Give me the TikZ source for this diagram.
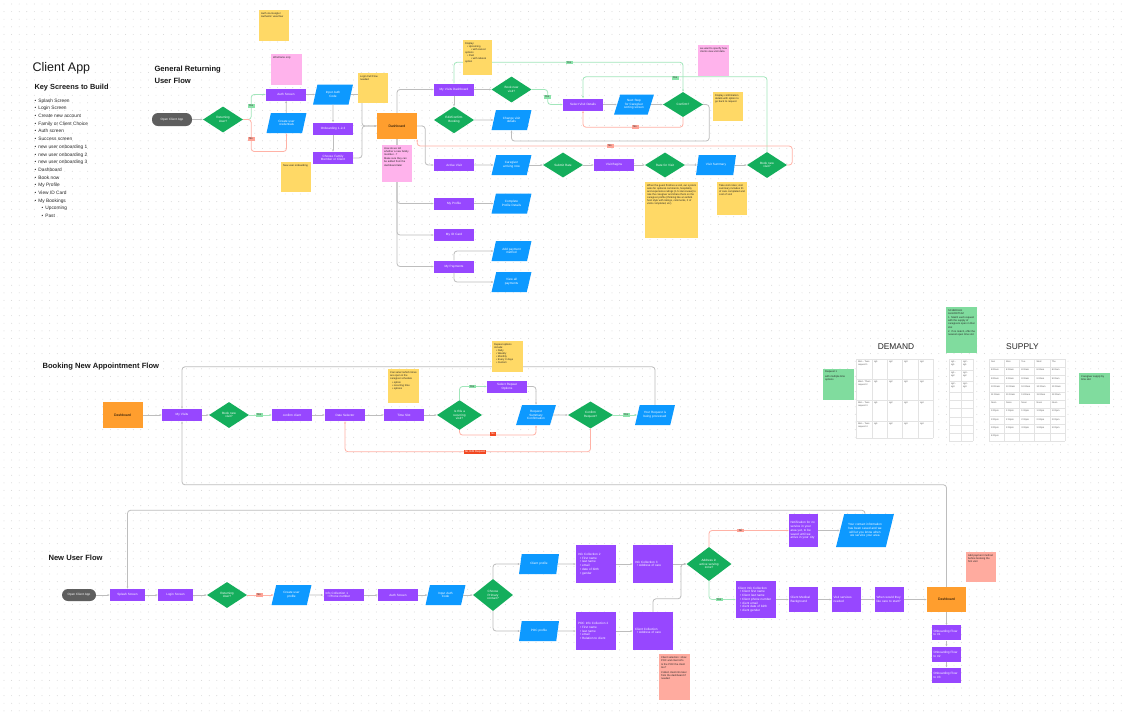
\documentclass[tikz,border=0pt]{standalone}
\usepackage{fontspec}
\setmainfont{Liberation Sans}
\usepackage{xcolor}
\usepackage{tikz}
\usetikzlibrary{arrows.meta,positioning,shapes.geometric,calc}
\definecolor{ScreenPurple}{HTML}{9747FF}
\definecolor{EntryBlue}{HTML}{0D99FF}
\definecolor{ChoiceGreen}{HTML}{14AE5C}
\definecolor{HubOrange}{HTML}{FF9E2E}
\definecolor{PillGray}{HTML}{5E5E5E}
\definecolor{NoteYellow}{HTML}{FFD966}
\definecolor{NotePink}{HTML}{FFB3EC}
\definecolor{NoteSalmon}{HTML}{FFAB9F}
\definecolor{NoteGreen}{HTML}{80DC9E}
\definecolor{LinkGray}{HTML}{BDBDBD}
\definecolor{YesLine}{HTML}{A2E6BB}
\definecolor{NoLine}{HTML}{FFB2A6}
\definecolor{YesTag}{HTML}{8BE3AA}
\definecolor{NoTag}{HTML}{FFA396}
\definecolor{StopRed}{HTML}{F24822}
\definecolor{DotGray}{HTML}{CFCFCF}
\definecolor{TableLine}{HTML}{E3E3E3}
\newcommand{\notebody}[3]{\parbox[t][#2][t]{#1}{\raggedright #3}}
\newcommand{\listdot}{\hspace*{2pt}\textbullet\ }

\begin{document}
\begin{tikzpicture}[
  x=1pt,y=-1pt,
  node distance=6pt,
  screen/.style={fill=ScreenPurple,text=white,minimum width=40pt,minimum height=12pt,text width=36pt,inner sep=0.5pt,align=center,font=\fontsize{3.1}{3.7}\selectfont},
  form/.style={screen,minimum height=38pt,align=left},
  small/.style={screen,minimum width=29pt,text width=26pt,minimum height=25pt,align=left},
  entry/.style={trapezium,trapezium left angle=63,trapezium right angle=117,trapezium stretches=true,fill=EntryBlue,text=white,minimum width=40pt,minimum height=20pt,text width=24pt,inner sep=0.5pt,align=center,font=\fontsize{3.1}{3.7}\selectfont},
  choice/.style={diamond,fill=ChoiceGreen,text=white,minimum width=40pt,minimum height=25pt,text width=20pt,inner sep=0pt,align=center,font=\fontsize{3.1}{3.7}\selectfont},
  hub/.style={fill=HubOrange,text=black,minimum width=40pt,minimum height=26pt,font=\fontsize{3.4}{4}\selectfont},
  start/.style={fill=PillGray,text=white,rounded corners=6pt,minimum width=40pt,minimum height=13pt,font=\fontsize{3.1}{3.7}\selectfont},
  note/.style={fill=#1,anchor=north west,inner sep=2pt,text=black!85,font=\fontsize{2.6}{3.1}\selectfont},
  cell/.style={anchor=north west,inner sep=0.8pt,text=black!65,font=\fontsize{2.3}{2.8}\selectfont},
  sectiontitle/.style={anchor=west,align=left,text=black!90,font=\bfseries\fontsize{7.6}{12}\selectfont},
  arr/.style={-{Latex[length=2.2pt,width=2pt]},draw=LinkGray,line width=0.8pt,rounded corners=3pt},
  yesarr/.style={arr,draw=YesLine},
  noarr/.style={arr,draw=NoLine},
  yestag/.style={fill=YesTag,text=black!80,inner sep=0.8pt,minimum width=7pt,font=\fontsize{2.7}{3}\selectfont},
  notag/.style={fill=NoTag,text=black!80,inner sep=0.8pt,minimum width=7pt,font=\fontsize{2.7}{3}\selectfont},
  stoptag/.style={fill=StopRed,text=white,inner sep=0.8pt,font=\fontsize{2.7}{3}\selectfont}
]
\fill[white] (0,0) rectangle (1130,713);
\useasboundingbox (0,0) rectangle (1130,713);
\foreach \gy in {4,11.6,...,712}
  \draw[DotGray,line width=0.9pt,line cap=round,dash pattern=on 0pt off 7.6pt] (4,\gy) -- (1128,\gy);

\node[anchor=west,text=black!90,font=\fontsize{12.5}{14}\selectfont] (appTitle) at (29,68) {Client App};
\node[anchor=west,text=black!90,font=\bfseries\fontsize{7.4}{8}\selectfont] (keyTitle) at (31,88) {Key Screens to Build};
\node[anchor=north west,align=left,inner sep=0pt,text=black!85,font=\fontsize{4.8}{7.7}\selectfont] (keyList) at (34.5,98.5) {%
\textbullet\hspace{2pt}Splash Screen\\
\textbullet\hspace{2pt}Login Screen\\
\textbullet\hspace{2pt}Create new account\\
\textbullet\hspace{2pt}Family or Client Choice\\
\textbullet\hspace{2pt}Auth screen\\
\textbullet\hspace{2pt}Success screen\\
\textbullet\hspace{2pt}new user onboarding 1\\
\textbullet\hspace{2pt}new user onboarding 2\\
\textbullet\hspace{2pt}new user onboarding 3\\
\textbullet\hspace{2pt}Dashboard\\
\textbullet\hspace{2pt}Book now\\
\textbullet\hspace{2pt}My Profile\\
\textbullet\hspace{2pt}View ID Card\\
\textbullet\hspace{2pt}My Bookings\\
\hspace*{7pt}\textbullet\hspace{2pt}Upcoming\\
\hspace*{7pt}\textbullet\hspace{2pt}Past};

\node[sectiontitle] (titleReturning) at (151,75) {General Returning\\User Flow};
\node[sectiontitle] (titleBooking) at (39,367) {Booking New Appointment Flow};
\node[sectiontitle] (titleNew) at (45,558) {New User Flow};

\node[start] (open1) at (172,119.5) {Open Client App};
\node[choice] (ret1) at (223,119.5) {Returning\\User?};
\node[screen] (auth1) at (286,94.5) {Auth Screen};
\node[entry] (create1) at (286.5,123) {Create user\\credentials};
\node[entry] (code1) at (333,94.5) {Input Auth\\Code};
\node[screen] (onb1) at (333,128.5) {Onboarding 1-2-3};
\node[screen] (choose1) at (333,158) {Choose Family Member or Client};
\node[hub] (dash1) at (397,126) {Dashboard};
\coordinate (join1) at (362,126);
\node[screen] (visits1) at (454,89.5) {My Visits Dashboard};
\node[choice] (booknew1) at (511.5,89.5) {Book new\\visit?};
\node[choice] (edit1) at (454,120) {Edit/Confirm\\Booking};
\node[entry] (change1) at (511.5,120) {Change visit\\details};
\node[screen] (select1) at (583,104.5) {Select Visit Details};
\node[entry] (next1) at (634,104.5) {Next Step for Caregiver sorting screen};
\node[choice] (confirm1) at (683,104.5) {Confirm?};
\node[screen] (active1) at (454,165) {Active Visit};
\node[entry] (arriving1) at (511.5,165) {Caregiver\\arriving now};
\node[choice] (submit1) at (563,165) {Submit Rate};
\node[screen] (begins1) at (614,165) {Visit Begins};
\node[choice] (rate1) at (665,165) {Rate for Visit};
\node[entry] (summary1) at (716,165) {Visit Summary};
\node[choice] (booknew2) at (767,165) {Book new\\visit?};
\node[screen] (profile1) at (454,203.5) {My Profile};
\node[entry] (details1) at (511.5,203.5) {Complete\\Profile Details};
\node[screen] (idcard1) at (454,235) {My ID Card};
\node[screen] (pay1) at (454,266.5) {My Payments};
\node[entry] (addpay1) at (511.5,251) {Add payment\\method};
\node[entry] (allpay1) at (511.5,282) {View all\\payments};

\draw[arr] (open1) -- (ret1);
\draw[yesarr] (ret1.east) -- ++(8,0) |- (auth1.west);
\draw[noarr] (ret1.east) -- ++(8,0) -- ++(0,32) -| (create1.south);
\draw[arr] (auth1) -- (code1);
\draw[arr] (create1) -- (auth1);
\draw[arr] (code1) -- (onb1);
\draw[arr] (onb1) -- (choose1);
\draw[arr] (code1.east) -| (join1) -- (dash1.west);
\draw[arr] (choose1.east) -| (join1) -- (dash1.west);
\draw[arr] (dash1.north) |- (visits1.west);
\draw[arr] (dash1.east) -- ++(8,0) |- (active1.west);
\draw[arr] (dash1.south) |- (profile1.west);
\draw[arr] (dash1.south) |- (idcard1.west);
\draw[arr] (dash1.south) |- (pay1.west);
\draw[arr] (visits1) -- (booknew1);
\draw[arr] (visits1) -- (edit1);
\draw[arr] (edit1) -- (change1);
\draw[yesarr] (booknew1.east) -- ++(16,0) |- (select1.west);
\draw[yesarr] (visits1.north) -- ++(0,-21) -| (confirm1.north);
\draw[arr] (select1) -- (next1);
\draw[arr] (next1) -- (confirm1);
\draw[noarr] (confirm1.south) -- ++(0,10) -| (select1.south);
\draw[arr] (confirm1.east) -- ++(6,0) -- ++(0,36.5) -| (change1.south);
\draw[yesarr] (booknew2.north) -- ++(0,-75) -| (select1.north);
\draw[noarr] (booknew2.east) -- ++(5,0) -- ++(0,-19) -| (dash1.south east);
\draw[arr] (active1) -- (arriving1);
\draw[arr] (arriving1) -- (submit1);
\draw[arr] (submit1) -- (begins1);
\draw[arr] (begins1) -- (rate1);
\draw[arr] (rate1) -- (summary1);
\draw[arr] (summary1) -- (booknew2);
\draw[arr] (profile1) -- (details1);
\draw[arr] (pay1.north) |- (addpay1.west);
\draw[arr] (pay1.south) |- (allpay1.west);

\node[yestag] (yes1) at (251,106) {Yes};
\node[notag] (no1) at (251,139) {No};
\node[yestag] (yes2) at (547,97) {Yes};
\node[yestag] (yes3) at (569,62.5) {Yes};
\node[notag] (no2) at (635,127) {No};
\node[yestag] (yes4) at (675,78) {Yes};
\node[notag] (no3) at (610,146) {No};

\node[hub] (dash2) at (122.5,415) {Dashboard};
\node[screen] (visits2) at (182,415) {My Visits};
\node[choice] (booknew3) at (229,415) {Book new\\visit?};
\node[screen] (client2) at (292,415) {confirm client};
\node[screen] (date2) at (345,415) {Date Selector};
\node[screen] (slot2) at (404,415) {Time Slot};
\node[choice,minimum width=45pt,minimum height=27pt] (recur2) at (459.5,415) {Is this a\\recurring visit?};
\node[screen] (repeat2) at (507,386.5) {Select Repeat\\Options};
\node[entry] (summary2) at (536,415) {Request Summary Confirmation};
\node[choice,minimum width=45pt,minimum height=27pt] (confirm2) at (590.5,415) {Confirm\\Request?};
\node[entry] (processed2) at (655,415) {Your Request is being processed};

\draw[arr] (dash2) -- (visits2);
\draw[arr] (visits2) -- (booknew3);
\draw[yesarr] (booknew3) -- (client2);
\draw[arr] (client2) -- (date2);
\draw[arr] (date2) -- (slot2);
\draw[arr] (slot2) -- (recur2);
\draw[yesarr] (recur2.north) |- (repeat2.west);
\draw[arr] (repeat2.east) -| (summary2.north);
\draw[noarr] (recur2.south) -- ++(0,5) -| (summary2.south);
\draw[arr] (summary2) -- (confirm2);
\draw[yesarr] (confirm2) -- (processed2);
\draw[noarr] (confirm2.south) -- ++(0,23) -| (date2.south);
\draw[arr] (processed2.north) -- ++(0,-38) -| (visits2.north);

\node[yestag] (yes5) at (259,415) {Yes};
\node[yestag] (yes6) at (472,386.5) {Yes};
\node[stoptag] (no4) at (493,434) {No};
\node[yestag] (yes7) at (626,415) {Yes};
\node[stoptag] (stop1) at (475,452) {No, Edit Request};

\node[start,minimum width=34pt,minimum height=12pt] (open3) at (79,595) {Open Client App};
\node[screen,minimum width=35pt,text width=32pt] (splash3) at (127.5,595) {Splash Screen};
\node[screen,minimum width=35pt,text width=32pt] (login3) at (175.5,595) {Login Screen};
\node[choice,minimum height=24pt] (ret3) at (227,595) {Returning\\User?};
\node[entry] (create3) at (291.5,595) {Create user\\profile};
\node[screen,align=left] (info3a) at (343.5,595) {Info Collection 1\\\listdot Phone number};
\node[screen] (auth3) at (398,595) {Auth Screen};
\node[entry] (code3) at (445.5,595) {Input Auth\\Code};
\node[choice,minimum height=32pt] (primary3) at (493,595) {Choose\\Primary\\contact?};
\node[entry] (client3) at (539,564) {Client profile};
\node[entry] (poc3) at (539,631) {POC profile};
\node[form] (info3b) at (596,564) {Info Collection 2\\\listdot First name\\\listdot last name\\\listdot email\\\listdot date of birth\\\listdot gender};
\node[form] (info3c) at (653,564) {Info Collection 3\\\listdot Address of care};
\node[form] (poc3b) at (596,631) {POC Info Collection 2\\\listdot First name\\\listdot last name\\\listdot email\\\listdot Relation to client};
\node[form] (poc3c) at (653,631) {Client Collection\\\listdot Address of care};
\coordinate (join3) at (681,564);
\node[choice,minimum width=45pt,minimum height=34pt] (zone3) at (709,564) {Address in\\active serving\\zone?};
\node[small,minimum height=33pt] (notify3) at (803.5,530.5) {Notification for no service in your area yet, to be saved until we arrive in your city};
\node[entry,minimum width=58pt,minimum height=33pt,text width=38pt] (saved3) at (865,530.5) {Your contact information has been saved and we will let you know when we service your area};
\node[form,minimum height=37pt] (cinfo3) at (756,599.5) {Client Info Collection\\\listdot Client first name\\\listdot Client last name\\\listdot Client phone number\\\listdot client email\\\listdot client date of birth\\\listdot client gender};
\node[small] (medical3) at (803.5,599.5) {Client Medical Background};
\node[small] (services3) at (846.5,599.5) {Visit services needed};
\node[small] (start3) at (889.5,599.5) {When would they like care to start?};
\node[hub,minimum width=39pt,minimum height=25pt] (dash3) at (946.5,599.5) {Dashboard};
\node[small,minimum height=15pt,below=13pt of dash3] (flow1) {Onboarding Flow to \#1};
\node[small,minimum height=15pt,below=6pt of flow1] (flow2) {Onboarding Flow to \#2};
\node[small,minimum height=15pt,below=5.5pt of flow2] (flow3) {Onboarding Flow to \#3};

\draw[arr] (open3) -- (splash3);
\draw[arr] (splash3) -- (login3);
\draw[arr] (login3) -- (ret3);
\draw[noarr] (ret3) -- (create3);
\draw[arr] (create3) -- (info3a);
\draw[arr] (info3a) -- (auth3);
\draw[arr] (auth3) -- (code3);
\draw[arr] (code3) -- (primary3);
\draw[arr] (primary3.north) |- (client3.west);
\draw[arr] (primary3.south) |- (poc3.west);
\draw[arr] (client3) -- (info3b);
\draw[arr] (info3b) -- (info3c);
\draw[arr] (info3c.east) -- (join3) -- (zone3.west);
\draw[arr] (poc3) -- (poc3b);
\draw[arr] (poc3b) -- (poc3c);
\draw[arr] (poc3c.north) -- ++(0,-13) -| (join3) -- (zone3.west);
\draw[noarr] (zone3.north) |- (notify3.west);
\draw[arr] (notify3) -- (saved3);
\draw[yesarr] (zone3.south) |- (cinfo3.west);
\draw[arr] (cinfo3) -- (medical3);
\draw[arr] (medical3) -- (services3);
\draw[arr] (services3) -- (start3);
\draw[arr] (start3) -- (dash3);
\draw[arr] (dash3) -- (flow1);
\draw[arr] (flow1) -- (flow2);
\draw[arr] (flow2) -- (flow3);
\draw[arr] (dash3.north) -- ++(0,-102) -| (visits2.south);
\draw[arr] (saved3.north) -- ++(0,-3.5) -| (splash3.north);

\node[notag] (no5) at (259,595) {No};
\node[notag] (no6) at (740.5,530.5) {No};
\node[yestag] (yes8) at (719,599.5) {Yes};

\node[note=NoteYellow] (tipGoogle) at (259,10) {\notebody{26pt}{27pt}{Auth via Google /\\Authentic view flow}};
\node[note=NotePink] (tipWire) at (271,54) {\notebody{27pt}{27pt}{Wireframe only}};
\node[note=NoteYellow] (tipLogin) at (358,73) {\notebody{26pt}{26pt}{Login Full Flow needed}};
\node[note=NoteYellow] (tipOnboard) at (281,162) {\notebody{26pt}{26pt}{New user onboarding}};
\node[note=NotePink] (tipFamily) at (382,145) {\notebody{26pt}{33pt}{How do we tell whether a new family member...?\\[1.5pt]Make sure they can be added from the dashboard later}};
\node[note=NoteYellow] (tipDisplay) at (463,40) {\notebody{25pt}{31pt}{Display:\\\listdot Upcoming\\\hspace*{4pt}\listdot with cancel options\\\listdot Past\\\hspace*{4pt}\listdot with rebook option}};
\node[note=NotePink] (tipSpec) at (698,45) {\notebody{27pt}{27pt}{we want to specify how clients view visit data}};
\node[note=NoteYellow] (tipConfirm) at (713,92) {\notebody{26pt}{25pt}{Display confirmation details with option to go back to request}};
\node[note=NoteYellow] (tipRating) at (645,182) {\notebody{49pt}{52pt}{When the guest finishes a visit, our system asks for optional comments, hospitality and experience ratings (1-5 star review) to rate the caregiver and share them on the caregiver profile (thinking like an airbnb host style with ratings, comments, \# of visits completed, etc)}};
\node[note=NoteYellow] (tipNotes) at (717,182) {\notebody{26pt}{29pt}{Take visit notes; visit summary includes ID of care completed and cost of visit}};
\node[note=NoteYellow] (tipSlots) at (388,369) {\notebody{27pt}{30pt}{Can select which times are open in the caregiver schedule\\[1pt]\listdot option\\\listdot recurring time\\\listdot options}};
\node[note=NoteYellow] (tipRepeat) at (492,341) {\notebody{27pt}{27pt}{Repeat options include:\\\listdot Daily\\\listdot Weekly\\\listdot Monthly\\\listdot Every X days\\\listdot Custom}};
\node[note=NoteGreen] (tipRequest) at (823,369) {\notebody{27pt}{27pt}{Request 1\\[1.5pt]with multiple time options}};
\node[note=NoteGreen] (tipAlgo) at (946,307) {\notebody{27pt}{42pt}{SCHEDULE ALGORITHM\\[1.5pt]1. Match each request with the supply of caregivers open in that slot\\[1.5pt]2. If no match, offer the nearest open time slot}};
\node[note=NoteGreen] (tipSupply) at (1079,373) {\notebody{27pt}{27pt}{Caregiver supply by time slot}};
\node[note=NoteSalmon] (tipPoc) at (659,654) {\notebody{27pt}{42pt}{Client selection: show POC and client info\\[1.5pt]Is the POC the client too?\\[1.5pt]Collect client info later from the dashboard if needed}};
\node[note=NoteSalmon] (tipPay) at (966,552) {\notebody{26pt}{26pt}{Add payment method before booking the first visit}};

\node[text=black!85,font=\fontsize{8.4}{9}\selectfont] (demandTitle) at (896,347) {DEMAND};
\node[text=black!85,font=\fontsize{8.4}{9}\selectfont] (supplyTitle) at (1022.5,347) {SUPPLY};

\fill[white] (856,359) rectangle (933,438);
\foreach \gx in {856,872,887,902,918,933}
  \draw[TableLine,line width=0.5pt] (\gx,359) -- (\gx,438);
\foreach \gy in {359,379,400,421,438}
  \draw[TableLine,line width=0.5pt] (856,\gy) -- (933,\gy);
\foreach \gy/\lab [count=\r] in {359/{Mon - Tues\\request 1},379/{Wed - Thurs\\request 2},400/{Mon - Tues\\request 3},421/{Mon - Tues\\request 4}}{
  \node[cell,align=left] (dmLab\r) at (857,\gy+1) {\lab};
  \foreach \gx/\v [count=\c] in {872/cg1,887/cg2,902/cg3,918/cg4}
    \node[cell] (dm\r\c) at (\gx+1,\gy+1) {\v};
}

\fill[white] (949,359) rectangle (973,441);
\foreach \gx in {949,961,973}
  \draw[TableLine,line width=0.5pt] (\gx,359) -- (\gx,441);
\foreach \gy in {359,370,381,392,400,408,417,425,433,441}
  \draw[TableLine,line width=0.5pt] (949,\gy) -- (973,\gy);
\foreach \gy/\a/\b [count=\r] in {359/{cg1 -\\sg1}/{cg2 -\\sg1},370/{cg1 -\\sg2}/{cg3 -\\sg2},381/{cg2 -\\sg3}/{cg4 -\\sg3}}{
  \node[cell,align=left] (mdA\r) at (950,\gy+1) {\a};
  \node[cell,align=left] (mdB\r) at (962,\gy+1) {\b};
}

\fill[white] (989,359) rectangle (1065,441);
\foreach \c in {0,...,5}
  \draw[TableLine,line width=0.5pt] ({989+15.2*\c},359) -- ({989+15.2*\c},441);
\foreach \r in {0,...,10}
  \draw[TableLine,line width=0.5pt] (989,{359+8.2*\r}) -- (1065,{359+8.2*\r});
\foreach \d [count=\c from 0] in {Sun,Mon,Tue,Wed,Thu}
  \node[cell] (sp0\c) at ({990+15.2*\c},360) {\d};
\foreach \t [count=\r] in {8:00am,9:00am,10:00am,11:00am,Noon,1:00pm,2:00pm,3:00pm}
  \foreach \c in {0,...,4}
    \node[cell] (sp\r\c) at ({990+15.2*\c},{360+8.2*\r}) {\t};
\node[cell] (sp90) at (990,{360+8.2*9}) {4:00pm};
\end{tikzpicture}
\end{document}
